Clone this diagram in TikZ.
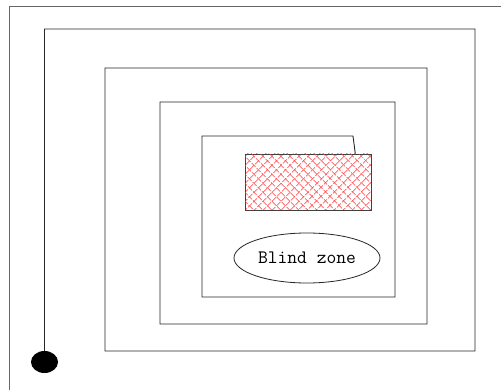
\documentclass[tikz,border=0pt]{standalone}
\usepackage{tikz}
\usetikzlibrary{shapes.geometric, patterns.meta}

\begin{document}
\begin{tikzpicture}[
    x=1pt, y=-1pt,
    frame/.style={draw=black!60, line width=0.9pt},
    track/.style={draw=black!85, line width=0.9pt},
    robot/.style={ellipse, fill=black, minimum width=27pt, minimum height=22pt, inner sep=0pt},
    target/.style={rectangle, draw=black!75, line width=0.8pt, minimum width=126pt, minimum height=56pt, inner sep=0pt,
        pattern={Lines[angle=45, distance=6.4pt, line width=0.6pt]}, pattern color=red!75,
        postaction={pattern={Lines[angle=-45, distance=6.4pt, line width=0.6pt]}, pattern color=red!75}},
    zone/.style={ellipse, draw=black!85, line width=0.8pt, minimum width=146pt, minimum height=50pt, inner sep=0pt,
        font=\fontsize{19}{22}\selectfont\ttfamily}
]
    \useasboundingbox (0,0) rectangle (501,390);
    \fill[white] (0,0) rectangle (501,390);

    % outer frame, open towards the right and bottom
    \draw [frame] (501,6) -- (9,6) -- (9,390);

    \node [robot] (start) at (44.5,362) {};
    \node [target] (goal) at (308,182) {};
    \node [zone] (blind) at (307,258) {Blind zone};

    % spiral sweep from the start point in towards the goal
    \draw [track] (start.north) -- (44.5,29) -- (475,29) -- (475,351) -- (105,351)
        -- (105,68) -- (427,68) -- (427,324) -- (160,324)
        -- (160,102) -- (395,102) -- (395,297) -- (202,297)
        -- (202,136) -- (353,136) -- ([xshift=-16pt]goal.north east);

\end{tikzpicture}
\end{document}
